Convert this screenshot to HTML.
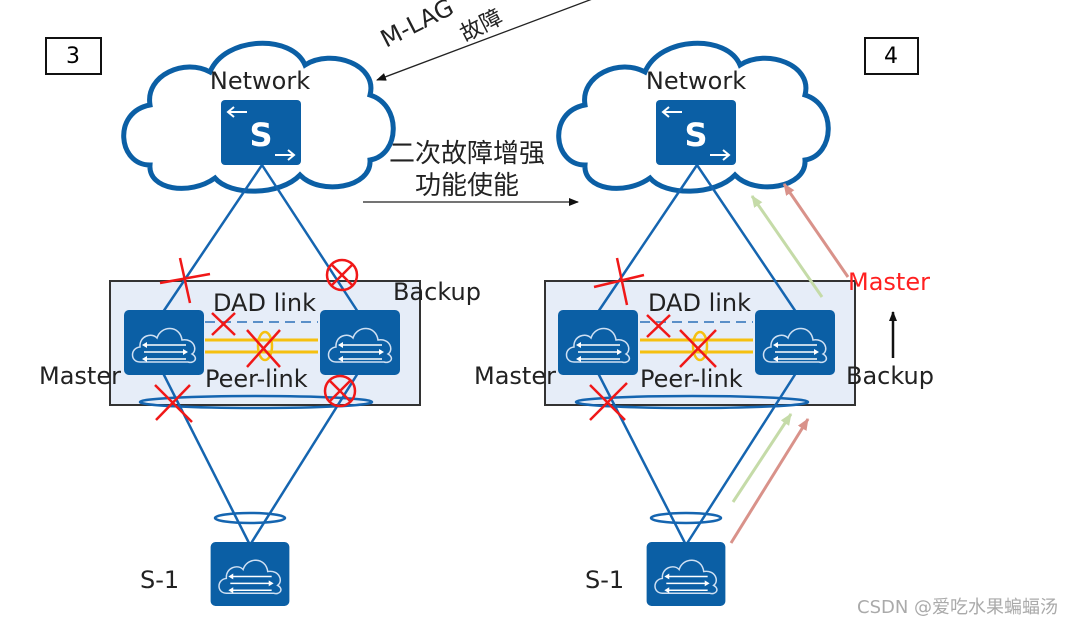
<!DOCTYPE html>
<html><head><meta charset="utf-8"><style>
html,body{margin:0;padding:0;background:#fff;}
svg{display:block;}
text{font-family:"DejaVu Sans","Noto Sans CJK SC",sans-serif;}
</style></head><body>
<svg width="1082" height="623" viewBox="0 0 1082 623" xmlns="http://www.w3.org/2000/svg">
<defs>
<symbol id="dev" viewBox="0 0 80 65">
<rect x="0" y="0" width="80" height="65" rx="5" fill="#0b5fa5"/>
<path d="M16,52 C6,52 6,38 16,37 C15,26 28,22 33,28 C37,15 56,15 58,30 C70,28 74,40 68,44 C75,48 70,54 64,52 Z" fill="none" stroke="#cfe0f3" stroke-width="1.5"/>
<g stroke="#fff" stroke-width="1.5"><line x1="20" y1="35" x2="62" y2="35"/><line x1="20" y1="42" x2="62" y2="42"/><line x1="20" y1="49" x2="62" y2="49"/></g>
<g fill="#fff"><path d="M18,35 l5,-3 v6z"/><path d="M64,42 l-5,-3 v6z"/><path d="M18,49 l5,-3 v6z"/></g>
</symbol>
<symbol id="sw" viewBox="0 0 80 65">
<rect x="0" y="0" width="80" height="65" rx="4" fill="#0b5fa5"/>
<text x="40" y="46" font-size="32" fill="#fff" text-anchor="middle" font-weight="bold">S</text>
<g stroke="#fff" stroke-width="2" fill="none"><line x1="8" y1="12" x2="26" y2="12"/><path d="M13,7 L7,12 L13,17"/><line x1="54" y1="55" x2="72" y2="55"/><path d="M67,50 L73,55 L67,60"/></g>
</symbol>
<g id="cloud"><path d="M150,165 C118,165 112,112 150,105 C145,75 185,58 210,72 C225,36 292,34 305,65 C332,48 378,65 370,95 C402,105 400,155 370,160 C372,188 320,196 300,175 C280,196 230,196 215,178 C190,196 148,190 150,165 Z" fill="#fff" stroke="#0b5fa5" stroke-width="5"/></g>
<marker id="ab" markerWidth="10" markerHeight="8" refX="9" refY="4" orient="auto" markerUnits="userSpaceOnUse"><path d="M0,0 L10,4 L0,8z" fill="#111"/></marker>
<marker id="ag" markerWidth="12" markerHeight="10" refX="11" refY="5" orient="auto" markerUnits="userSpaceOnUse"><path d="M0,0 L12,5 L0,10z" fill="#c5dba8"/></marker>
<marker id="ar" markerWidth="12" markerHeight="10" refX="11" refY="5" orient="auto" markerUnits="userSpaceOnUse"><path d="M0,0 L12,5 L0,10z" fill="#d9928a"/></marker>
</defs>

<!-- top arrow & text -->
<line x1="595" y1="-2" x2="377" y2="80" stroke="#222" stroke-width="1.3" marker-end="url(#ab)"/>
<text transform="translate(386,48) rotate(-27)" font-size="24" fill="#222">M-LAG</text>
<text transform="translate(465,42) rotate(-27)" font-size="22" fill="#222">故障</text>

<!-- middle -->
<text x="467" y="162" font-size="26" fill="#222" text-anchor="middle">二次故障增强</text>
<text x="467" y="194" font-size="26" fill="#222" text-anchor="middle">功能使能</text>
<line x1="363" y1="202" x2="578" y2="202" stroke="#222" stroke-width="1.3" marker-end="url(#ab)"/>

<!-- PANEL LEFT -->
<g>
<rect x="46" y="38" width="55" height="36" fill="#fff" stroke="#111" stroke-width="2"/>
<text x="73" y="63" font-size="22" text-anchor="middle">3</text>
<use href="#cloud"/>
<text x="260" y="89" font-size="24" fill="#222" text-anchor="middle">Network</text>
<use href="#sw" x="221" y="100" width="80" height="65"/>
<rect x="110" y="281" width="310" height="124" fill="#e6edf8" stroke="#333" stroke-width="2"/>
<g stroke="#1565b0" stroke-width="2.5">
<line x1="262" y1="165" x2="163" y2="312"/><line x1="262" y1="165" x2="358" y2="312"/>
<line x1="163" y1="373" x2="250" y2="545"/><line x1="358" y1="373" x2="250" y2="545"/>
</g>
<ellipse cx="256" cy="402" rx="116" ry="6" fill="none" stroke="#1565b0" stroke-width="2.5"/>
<ellipse cx="250" cy="518" rx="35" ry="5" fill="none" stroke="#1565b0" stroke-width="2.5"/>
<line x1="205" y1="322" x2="318" y2="322" stroke="#5a8fc8" stroke-width="2" stroke-dasharray="10,6"/>
<line x1="205" y1="340" x2="318" y2="340" stroke="#f5c010" stroke-width="3"/>
<line x1="205" y1="352" x2="318" y2="352" stroke="#f5c010" stroke-width="3"/>
<ellipse cx="265" cy="346" rx="7" ry="14" fill="none" stroke="#f5c010" stroke-width="2.5"/>
<use href="#dev" x="124" y="310" width="80" height="65"/>
<use href="#dev" x="320" y="310" width="80" height="65"/>
<text x="213" y="311" font-size="24" fill="#222">DAD link</text>
<text x="205" y="387" font-size="24" fill="#222">Peer-link</text>
<text x="39" y="384" font-size="24" fill="#222">Master</text>
<text x="393" y="300" font-size="24" fill="#222">Backup</text>
<text x="140" y="588" font-size="24" fill="#222">S-1</text>
<use href="#dev" x="210" y="542" width="80" height="64"/>
<g stroke="#f01818" stroke-width="2.5" fill="none">
<line x1="160" y1="283" x2="210" y2="274"/><line x1="180" y1="258" x2="190" y2="303"/>
<line x1="212" y1="313" x2="235" y2="335"/><line x1="235" y1="313" x2="212" y2="335"/>
<line x1="247" y1="330" x2="280" y2="367"/><line x1="280" y1="330" x2="247" y2="367"/>
<line x1="155" y1="385" x2="192" y2="422"/><line x1="190" y1="385" x2="156" y2="420"/>
<circle cx="342" cy="275" r="15"/><line x1="332" y1="265" x2="352" y2="285"/><line x1="352" y1="265" x2="332" y2="285"/>
<circle cx="340" cy="391" r="15"/><line x1="330" y1="381" x2="350" y2="401"/><line x1="350" y1="381" x2="330" y2="401"/>
</g>
</g>

<!-- PANEL RIGHT -->
<g>
<rect x="865" y="38" width="53" height="36" fill="#fff" stroke="#111" stroke-width="2"/>
<text x="891" y="63" font-size="22" text-anchor="middle">4</text>
<use href="#cloud" x="435"/>
<text x="696" y="89" font-size="24" fill="#222" text-anchor="middle">Network</text>
<use href="#sw" x="656" y="100" width="80" height="65"/>
<rect x="545" y="281" width="310" height="124" fill="#e6edf8" stroke="#333" stroke-width="2"/>
<g stroke="#1565b0" stroke-width="2.5">
<line x1="697" y1="165" x2="598" y2="312"/><line x1="697" y1="165" x2="796" y2="312"/>
<line x1="598" y1="373" x2="686" y2="545"/><line x1="796" y1="373" x2="686" y2="545"/>
</g>
<ellipse cx="692" cy="402" rx="116" ry="6" fill="none" stroke="#1565b0" stroke-width="2.5"/>
<ellipse cx="686" cy="518" rx="35" ry="5" fill="none" stroke="#1565b0" stroke-width="2.5"/>
<line x1="640" y1="322" x2="753" y2="322" stroke="#5a8fc8" stroke-width="2" stroke-dasharray="10,6"/>
<line x1="640" y1="340" x2="753" y2="340" stroke="#f5c010" stroke-width="3"/>
<line x1="640" y1="352" x2="753" y2="352" stroke="#f5c010" stroke-width="3"/>
<ellipse cx="700" cy="346" rx="7" ry="14" fill="none" stroke="#f5c010" stroke-width="2.5"/>
<use href="#dev" x="558" y="310" width="80" height="65"/>
<use href="#dev" x="755" y="310" width="80" height="65"/>
<text x="648" y="311" font-size="24" fill="#222">DAD link</text>
<text x="640" y="387" font-size="24" fill="#222">Peer-link</text>
<text x="474" y="384" font-size="24" fill="#222">Master</text>
<text x="846" y="384" font-size="24" fill="#222">Backup</text>
<text x="848" y="290" font-size="24" fill="#ff2020">Master</text>
<line x1="893" y1="358" x2="893" y2="312" stroke="#111" stroke-width="2.5" marker-end="url(#ab)"/>
<text x="585" y="588" font-size="24" fill="#222">S-1</text>
<use href="#dev" x="646" y="542" width="80" height="64"/>
<g stroke-width="3" fill="none">
<line x1="822" y1="297" x2="752" y2="196" stroke="#c5dba8" marker-end="url(#ag)"/>
<line x1="848" y1="277" x2="784" y2="184" stroke="#d9928a" marker-end="url(#ar)"/>
<line x1="733" y1="502" x2="791" y2="414" stroke="#c5dba8" marker-end="url(#ag)"/>
<line x1="731" y1="543" x2="808" y2="419" stroke="#d9928a" marker-end="url(#ar)"/>
</g>
<g stroke="#f01818" stroke-width="2.5" fill="none">
<line x1="594" y1="287" x2="644" y2="275"/><line x1="617" y1="258" x2="627" y2="305"/>
<line x1="647" y1="315" x2="670" y2="337"/><line x1="670" y1="315" x2="647" y2="337"/>
<line x1="680" y1="330" x2="716" y2="367"/><line x1="716" y1="330" x2="680" y2="367"/>
<line x1="590" y1="385" x2="625" y2="420"/><line x1="627" y1="383" x2="590" y2="420"/>
</g>
</g>

<text x="857" y="613" font-size="18" fill="#aaa">CSDN @爱吃水果蝙蝠汤</text>
</svg>
</body></html>
